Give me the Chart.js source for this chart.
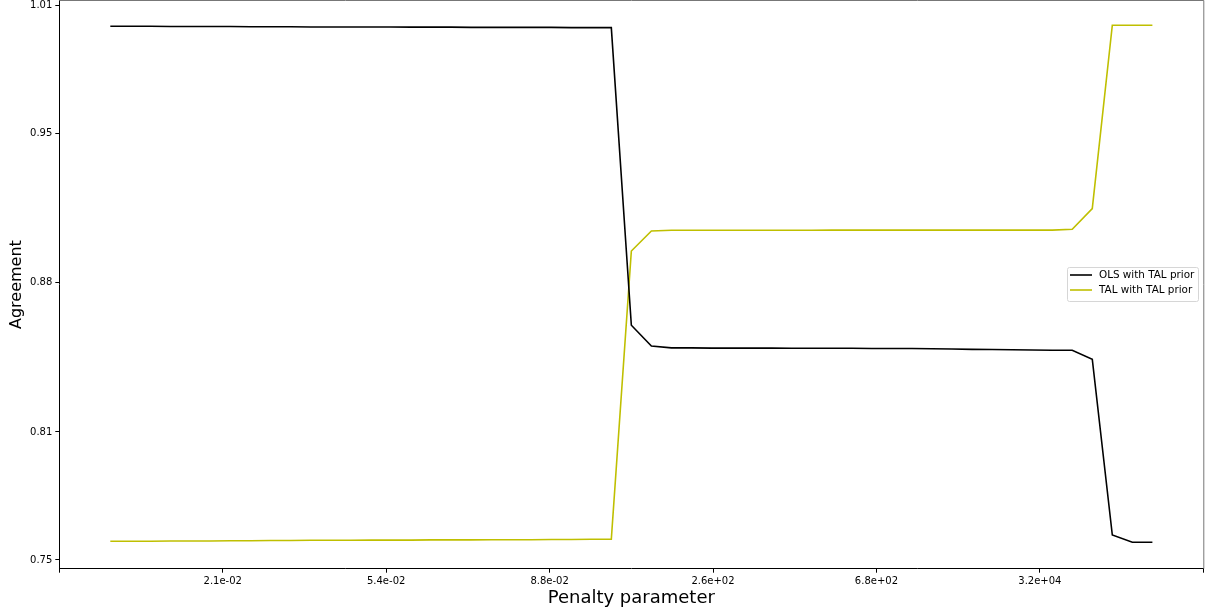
<!DOCTYPE html>
<html>
<head>
<meta charset="utf-8">
<script src="https://cdn.jsdelivr.net/npm/chart.js@4/dist/chart.umd.min.js"></script>
<style>
  html, body { margin: 0; padding: 0; background: #fff; }
  #wrap { width: 1207px; height: 613px; }
</style>
</head>
<body>
<div id="wrap"><canvas id="myChart" width="1207" height="613"></canvas></div>
<script>
// Agreement per penalty step (53 steps)
let olsTal = [
    1.0001, 1.0001, 1.0001, 1.0000, 1.0000, 1.0000, 1.0000, 0.9999, 0.9999, 0.9999,
    0.9998, 0.9998, 0.9998, 0.9998, 0.9998, 0.9997, 0.9997, 0.9997, 0.9996, 0.9996,
    0.9996, 0.9996, 0.9996, 0.9995, 0.9995, 0.9995,
    0.8600, 0.8503,
    0.8494, 0.8494, 0.8493, 0.8493, 0.8493, 0.8493, 0.8492, 0.8492, 0.8492, 0.8492,
    0.8491, 0.8491, 0.8491, 0.8490, 0.8489, 0.8487, 0.8486, 0.8485, 0.8484, 0.8483, 0.8483,
    0.8441, 0.7617, 0.7583, 0.7583
];
let talTal = [
    0.7588, 0.7588, 0.7588, 0.7589, 0.7589, 0.7589, 0.7590, 0.7590, 0.7591, 0.7591,
    0.7592, 0.7592, 0.7592, 0.7593, 0.7593, 0.7593, 0.7594, 0.7594, 0.7594, 0.7595,
    0.7595, 0.7595, 0.7596, 0.7596, 0.7597, 0.7597,
    0.8948, 0.9042,
    0.9045, 0.9045, 0.9045, 0.9045, 0.9045, 0.9045, 0.9045, 0.9045, 0.9046, 0.9046,
    0.9046, 0.9046, 0.9046, 0.9046, 0.9046, 0.9046, 0.9046, 0.9046, 0.9046, 0.9046,
    0.9050, 0.9147, 1.0006, 1.0006, 1.0006
];

let seriesNames = ["OLS with TAL prior", "TAL with TAL prior"];
let seriesColors = ["#000000", "#bfbf00"];

// tick labels as printed on the axes
let xTickLabels = ["", "2.1e-02", "5.4e-02", "8.8e-02", "2.6e+02", "6.8e+02", "3.2e+04", ""];
let yTickValues = [0.75, 0.81, 0.88, 0.95, 1.01];

let xMin = -2.545, xMax = 54.54;
let yMin = 0.7459, yMax = 1.0122;

function toPoints(arr) {
    return arr.map((v, i) => ({ x: i, y: v }));
}

// draws the top/right spines and the matplotlib-like legend box
let framePlugin = {
    id: "frame",
    afterDraw(chart) {
        let ctx = chart.ctx;
        let a = chart.chartArea;
        ctx.save();
        ctx.strokeStyle = "#777";
        ctx.lineWidth = 1;
        ctx.beginPath();
        ctx.moveTo(a.left, 0.5);
        ctx.lineTo(a.right + 0.5, 0.5);
        ctx.lineTo(a.right + 0.5, a.bottom);
        ctx.stroke();

        // legend
        let bx = 1067.5, by = 267.5, bw = 131, bh = 34;
        ctx.fillStyle = "rgba(255,255,255,0.8)";
        ctx.strokeStyle = "#d6d6d6";
        ctx.beginPath();
        ctx.roundRect(bx, by, bw, bh, 2);
        ctx.fill();
        ctx.stroke();

        ctx.font = "10.4px 'DejaVu Sans'";
        ctx.textBaseline = "middle";
        ctx.textAlign = "left";
        for (let i = 0; i < seriesNames.length; i++) {
            let ly = 275 + i * 15;
            ctx.strokeStyle = seriesColors[i];
            ctx.lineWidth = 1.6;
            ctx.beginPath();
            ctx.moveTo(1070, ly);
            ctx.lineTo(1092, ly);
            ctx.stroke();
            ctx.fillStyle = "#000";
            ctx.fillText(seriesNames[i], 1099, ly + 0.5);
        }
        ctx.restore();
    }
};

let config = {
    type: "line",
    data: {
        datasets: [
            {
                label: seriesNames[0],
                data: toPoints(olsTal),
                borderColor: seriesColors[0],
                borderWidth: 1.6,
                pointRadius: 0,
                fill: false,
                tension: 0
            },
            {
                label: seriesNames[1],
                data: toPoints(talTal),
                borderColor: seriesColors[1],
                borderWidth: 1.6,
                pointRadius: 0,
                fill: false,
                tension: 0
            }
        ]
    },
    options: {
        responsive: false,
        animation: false,
        layout: { padding: { top: 0.5, right: 3.7, left: 0, bottom: 0 } },
        plugins: {
            legend: { display: false },
            tooltip: { enabled: false }
        },
        scales: {
            x: {
                type: "linear",
                min: xMin,
                max: xMax,
                afterFit: (s) => {
                    s.height = 44.3;
                    s.paddingLeft = 0;
                    s.paddingRight = 0;
                },
                afterBuildTicks: (s) => {
                    let step = (xMax - xMin) / (xTickLabels.length - 1);
                    s.ticks = xTickLabels.map((_, i) => ({ value: xMin + i * step }));
                },
                ticks: {
                    autoSkip: false,
                    maxRotation: 0,
                    padding: 3,
                    color: "#000",
                    font: { family: "'DejaVu Sans'", size: 10 },
                    callback: (v, i) => xTickLabels[i]
                },
                grid: { drawOnChartArea: false, tickLength: 4, tickColor: "#000", tickWidth: 1 },
                border: { color: "#000", width: 1 },
                title: {
                    display: true,
                    text: "Penalty parameter",
                    color: "#000",
                    font: { family: "'DejaVu Sans'", size: 18 },
                    padding: { top: 0, bottom: 4 }
                }
            },
            y: {
                type: "linear",
                min: yMin,
                max: yMax,
                afterFit: (s) => {
                    s.width = 59.3;
                    s.paddingTop = 0;
                    s.paddingBottom = 0;
                },
                afterBuildTicks: (s) => {
                    s.ticks = yTickValues.map((v) => ({ value: v }));
                },
                ticks: {
                    padding: 3,
                    color: "#000",
                    font: { family: "'DejaVu Sans'", size: 10 },
                    callback: (v) => v.toFixed(2)
                },
                grid: { drawOnChartArea: false, tickLength: 4, tickColor: "#000", tickWidth: 1 },
                border: { color: "#000", width: 1 },
                title: {
                    display: true,
                    text: "Agreement",
                    color: "#000",
                    font: { family: "'DejaVu Sans'", size: 16 },
                    padding: { top: 7, bottom: 0 }
                }
            }
        }
    },
    plugins: [framePlugin]
};

let ctx = document.getElementById("myChart").getContext("2d");
let myChart = new Chart(ctx, config);
</script>
</body>
</html>
